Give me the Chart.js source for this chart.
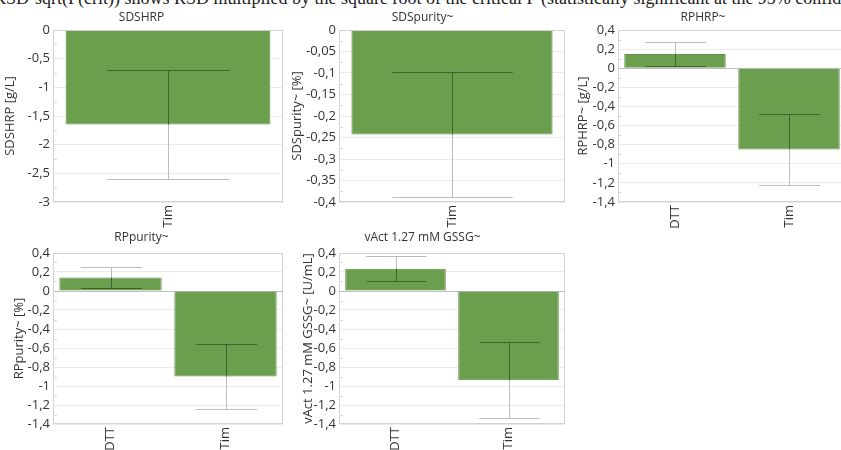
<!DOCTYPE html>
<html>
<head>
<meta charset="utf-8">
<script src="https://cdn.jsdelivr.net/npm/chart.js@4.4.1/dist/chart.umd.min.js"></script>
<style>
  html, body { margin: 0; padding: 0; background: #fff; }
  body { position: relative; width: 841px; height: 450px; overflow: hidden; }
  .caption {
    position: absolute; left: -6px; top: -11px; white-space: nowrap;
    font: 18px "Liberation Serif", serif; line-height: 18px; color: #222;
  }
  .panel { position: absolute; }
</style>
</head>
<body>
<div class="caption">RSD·sqrt(F(crit)) shows RSD multiplied by the square root of the critical F (statistically significant at the 95% confidence level).</div>
<div class="panel" style="left:0;top:0"><canvas id="sdsHrp" width="290" height="232"></canvas></div>
<div class="panel" style="left:280px;top:0"><canvas id="sdsPurity" width="290" height="232"></canvas></div>
<div class="panel" style="left:560px;top:0"><canvas id="rpHrp" width="295" height="232"></canvas></div>
<div class="panel" style="left:0;top:225px"><canvas id="rpPurity" width="290" height="250"></canvas></div>
<div class="panel" style="left:280px;top:225px"><canvas id="vAct" width="290" height="250"></canvas></div>

<script>
// effect estimates with their confidence half-widths
const sdsHrpCats = ["Tim"];
const sdsHrpMeans = [-1.65];
const sdsHrpErr = [0.945];
const sdsHrpAxis = [-3, 0, 0.5];

const sdsPurityCats = ["Tim"];
const sdsPurityMeans = [-0.243];
const sdsPurityErr = [0.145];
const sdsPurityAxis = [-0.4, 0, 0.05];

const rpHrpCats = ["DTT", "Tim"];
const rpHrpMeans = [0.15, -0.85];
const rpHrpErr = [0.123, 0.37];
const rpHrpAxis = [-1.4, 0.4, 0.2];

const rpPurityCats = ["DTT", "Tim"];
const rpPurityMeans = [0.142, -0.9];
const rpPurityErr = [0.114, 0.347];
const rpPurityAxis = [-1.4, 0.4, 0.2];

const vActCats = ["DTT", "Tim"];
const vActMeans = [0.235, -0.94];
const vActErr = [0.133, 0.4];
const vActAxis = [-1.4, 0.4, 0.2];

const FONT = "'Open Sans', 'Noto Sans', sans-serif";
const TEXT = "#333";

// error bars: light grey on white, dark where they cross the bar
const errorBars = {
    id: "errorBars",
    afterDatasetsDraw(chart) {
        const ctx = chart.ctx;
        const ds = chart.data.datasets[0];
        const y = chart.scales.y;
        chart.getDatasetMeta(0).data.forEach((bar, i) => {
            const top = Math.round(y.getPixelForValue(ds.data[i] + ds.errors[i])) + 0.5;
            const bottom = Math.round(y.getPixelForValue(ds.data[i] - ds.errors[i])) + 0.5;
            const x = Math.round(bar.x) + 0.5;
            const half = bar.width * 0.3;
            const stroke = () => {
                ctx.beginPath();
                ctx.moveTo(x - half, top); ctx.lineTo(x + half, top);
                ctx.moveTo(x, top); ctx.lineTo(x, bottom);
                ctx.moveTo(x - half, bottom); ctx.lineTo(x + half, bottom);
                ctx.stroke();
            };
            ctx.save();
            ctx.lineWidth = 1;
            ctx.strokeStyle = "#bcbcbc";
            stroke();
            ctx.beginPath();
            ctx.rect(bar.x - bar.width / 2, Math.min(bar.y, bar.base), bar.width, Math.abs(bar.base - bar.y));
            ctx.clip();
            ctx.strokeStyle = "#3c6330";
            stroke();
            ctx.restore();
        });
    }
};

// plot frame and small minor ticks along the left edge
const frame = {
    id: "frame",
    afterDraw(chart) {
        const { ctx, chartArea: a } = chart;
        const ticks = chart.scales.y.ticks;
        ctx.save();
        ctx.strokeStyle = "#d2d2d2";
        ctx.lineWidth = 1;
        ctx.strokeRect(Math.round(a.left) + 0.5, Math.round(a.top) + 0.5,
            Math.round(a.right - a.left) - 1, Math.round(a.bottom - a.top) - 1);
        ctx.strokeStyle = "#d8d8d8";
        for (let i = 0; i < ticks.length - 1; i++) {
            const mid = (ticks[i].value + ticks[i + 1].value) / 2;
            const py = Math.round(chart.scales.y.getPixelForValue(mid)) + 0.5;
            ctx.beginPath();
            ctx.moveTo(a.left, py);
            ctx.lineTo(a.left + 4, py);
            ctx.stroke();
        }
        ctx.restore();
    }
};

function fmt(v) {
    const r = Math.round(v * 100) / 100;
    return (r === 0 ? "0" : String(r)).replace(".", ",");
}

function makePanel(id, title, yTitle, cats, means, errs, axis, box) {
    new Chart(document.getElementById(id), {
        type: "bar",
        data: {
            labels: cats,
            datasets: [{
                data: means,
                errors: errs,
                backgroundColor: "#6b9f4e",
                borderColor: "#5e9244",
                borderWidth: 1,
                barPercentage: 0.89,
                categoryPercentage: 1
            }]
        },
        plugins: [errorBars, frame],
        options: {
            responsive: false,
            animation: false,
            events: [],
            layout: { padding: { left: 0, right: box.right, top: 0, bottom: 0 } },
            plugins: {
                legend: { display: false },
                tooltip: { enabled: false },
                title: {
                    display: true,
                    text: title,
                    color: TEXT,
                    font: { family: FONT, size: 12, weight: "normal", lineHeight: 1.2 },
                    padding: { top: box.titleTop, bottom: box.titleBottom }
                }
            },
            scales: {
                x: {
                    grid: { display: false, drawTicks: false },
                    border: { display: false },
                    ticks: {
                        color: TEXT,
                        minRotation: 90,
                        maxRotation: 90,
                        padding: 3,
                        font: { family: FONT, size: 13 }
                    },
                    afterFit(scale) { scale.height = box.xHeight; }
                },
                y: {
                    min: axis[0],
                    max: axis[1],
                    border: { display: false },
                    grid: {
                        drawTicks: false,
                        color: (c) => c.tick && c.tick.value === 0 ? "#bdbdbd" : "#ebebeb"
                    },
                    ticks: {
                        stepSize: axis[2],
                        color: TEXT,
                        padding: 3,
                        font: { family: FONT, size: 13 },
                        callback: (v) => fmt(v)
                    },
                    title: {
                        display: true,
                        text: yTitle,
                        color: TEXT,
                        font: { family: FONT, size: 13 },
                        padding: { top: box.yTitlePad, bottom: 0 }
                    },
                    afterFit(scale) { scale.width = box.yWidth; }
                }
            }
        }
    });
}

makePanel("sdsHrp", "SDSHRP", "SDSHRP [g/L]", sdsHrpCats, sdsHrpMeans, sdsHrpErr, sdsHrpAxis,
    { right: 7, titleTop: 10, titleBottom: 5.6, xHeight: 30, yWidth: 53, yTitlePad: 2 });
makePanel("sdsPurity", "SDSpurity~", "SDSpurity~ [%]", sdsPurityCats, sdsPurityMeans, sdsPurityErr, sdsPurityAxis,
    { right: 5, titleTop: 10, titleBottom: 5.6, xHeight: 30, yWidth: 59, yTitlePad: 9 });
makePanel("rpHrp", "RPHRP~", "RPHRP~ [g/L]", rpHrpCats, rpHrpMeans, rpHrpErr, rpHrpAxis,
    { right: 9, titleTop: 10, titleBottom: 5.6, xHeight: 30, yWidth: 58, yTitlePad: 15 });
makePanel("rpPurity", "RPpurity~", "RPpurity~ [%]", rpPurityCats, rpPurityMeans, rpPurityErr, rpPurityAxis,
    { right: 7, titleTop: 5, titleBottom: 8.6, xHeight: 51, yWidth: 53, yTitlePad: 11 });
makePanel("vAct", "vAct 1.27 mM GSSG~", "vAct 1.27 mM GSSG~ [U/mL]", vActCats, vActMeans, vActErr, vActAxis,
    { right: 5, titleTop: 5, titleBottom: 8.6, xHeight: 51, yWidth: 59, yTitlePad: 20 });
</script>
</body>
</html>
